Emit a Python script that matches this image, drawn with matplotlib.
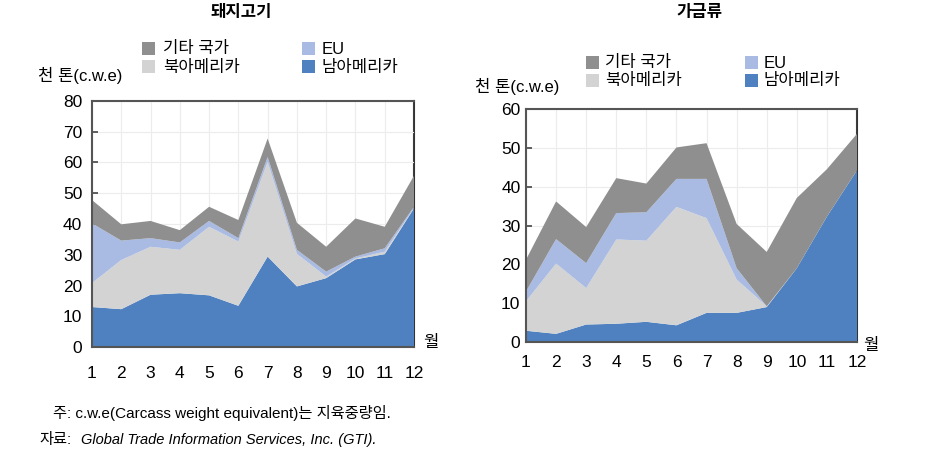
import matplotlib.pyplot as plt
from matplotlib.patches import Rectangle
import numpy as np

plt.rcParams["font.family"] = ["Liberation Sans", "Noto Sans CJK KR"]

months = np.arange(1, 13)
month_labels = [str(m) for m in months]
series_names = ["남아메리카", "북아메리카", "EU", "기타 국가"]
colors = ["#4f81c0", "#d3d3d3", "#a9bbe3", "#8f8f8f"]

# 돼지고기 (천 톤 c.w.e)
pork_sa = [13.0, 12.3, 17.0, 17.5, 16.8, 13.4, 29.4, 19.7, 22.4, 28.5, 30.2, 45.1]
pork_na = [7.8, 16.0, 15.6, 14.1, 22.3, 20.9, 30.8, 10.6, 0.5, 0.3, 0.8, 0.1]
pork_eu = [19.4, 6.3, 2.8, 2.4, 1.9, 1.1, 1.6, 1.3, 1.6, 0.6, 1.1, 0.4]
pork_other = [7.6, 5.3, 5.6, 4.0, 4.6, 5.9, 6.0, 8.8, 8.1, 12.4, 7.0, 10.1]

# 가금류
poultry_sa = [2.9, 2.1, 4.5, 4.7, 5.2, 4.3, 7.5, 7.5, 9.0, 19.0, 32.3, 44.2]
poultry_na = [7.6, 18.1, 9.4, 21.7, 20.9, 30.5, 24.4, 8.6, 0.2, 0.0, 0.0, 0.0]
poultry_eu = [2.5, 6.3, 6.4, 6.8, 7.3, 7.2, 10.1, 2.9, 0.0, 0.0, 0.0, 0.0]
poultry_other = [8.2, 9.7, 9.3, 9.0, 7.4, 8.1, 9.2, 11.4, 14.0, 18.1, 12.2, 9.4]

W, H = 929, 473
fig = plt.figure(figsize=(W / 100, H / 100), dpi=100)


def px(x, y):
    return x / W, 1 - y / H


def draw_panel(rect, data, ymax, yticks, title, title_xy, ylab_xy, leg, month_y, wol_xy, ypad):
    x0, y0, x1, y1 = rect
    ax = fig.add_axes([x0 / W, 1 - y1 / H, (x1 - x0) / W, (y1 - y0) / H])
    ax.stackplot(months, *data, colors=colors, linewidth=0)
    ax.set_xlim(1, 12)
    ax.set_ylim(0, ymax)
    ax.set_yticks(yticks)
    ax.set_xticks(months)
    ax.set_xticklabels([])
    ax.grid(True, color="#ececec", linewidth=0.8)
    ax.set_axisbelow(True)
    ax.tick_params(axis="y", direction="in", length=4, width=1.2, color="#444444",
                   labelsize=12.5, pad=ypad)
    ax.tick_params(axis="x", direction="in", length=3, width=1.2, color="#333333")
    for s in ax.spines.values():
        s.set_color("#555555")
        s.set_linewidth(1.5)
    ax.spines["right"].set_zorder(0.5)
    ax.spines["right"].set_color("#333333")

    # month labels under each tick
    for m, lab in zip(months, month_labels):
        xf = (x0 + (m - 1) / 11 * (x1 - x0)) / W
        fig.text(xf, 1 - month_y / H, lab, ha="center", va="center", fontsize=12.5)

    fig.text(*px(*wol_xy), "월", ha="center", va="center", fontsize=12)
    fig.text(*px(*title_xy), title, ha="center", va="center", fontsize=12, fontweight="bold")
    fig.text(*px(*ylab_xy), "천 톤(c.w.e)", ha="left", va="center", fontsize=12)

    # legend: 기타 국가 / 북아메리카 on the left, EU / 남아메리카 on the right
    (cx1, tx1, cx2, tx2, ry1, ry2) = leg
    items = [(3, cx1, tx1, ry1), (1, cx1, tx1, ry2), (2, cx2, tx2, ry1), (0, cx2, tx2, ry2)]
    for idx, cx, tx, ry in items:
        fig.patches.append(Rectangle(px(cx, ry + 6.5), 13 / W, 13 / H, facecolor=colors[idx],
                                     edgecolor="none", transform=fig.transFigure))
        fig.text(*px(tx, ry), series_names[idx], ha="left", va="center", fontsize=12)
    return ax


draw_panel((92, 101, 414, 347),
           [pork_sa, pork_na, pork_eu, pork_other], 80, range(0, 81, 10),
           "돼지고기", (241, 12), (38, 75),
           (142, 163, 302, 322, 49, 67), 374, (431, 343), 7)

draw_panel((526, 109, 857, 342),
           [poultry_sa, poultry_na, poultry_eu, poultry_other], 60, range(0, 61, 10),
           "가금류", (700, 12), (475, 86),
           (586, 605, 745, 764, 63, 81), 362, (871, 345), 4)

fig.text(*px(53, 413), "주: c.w.e(Carcass weight equivalent)는 지육중량임.",
         ha="left", va="center", fontsize=11)
fig.text(*px(39, 440), "자료:", ha="left", va="center", fontsize=11)
fig.text(*px(81, 440), "Global Trade Information Services, Inc. (GTI).",
         ha="left", va="center", fontsize=10.5, style="italic")

fig.savefig("out.png", dpi=100)
